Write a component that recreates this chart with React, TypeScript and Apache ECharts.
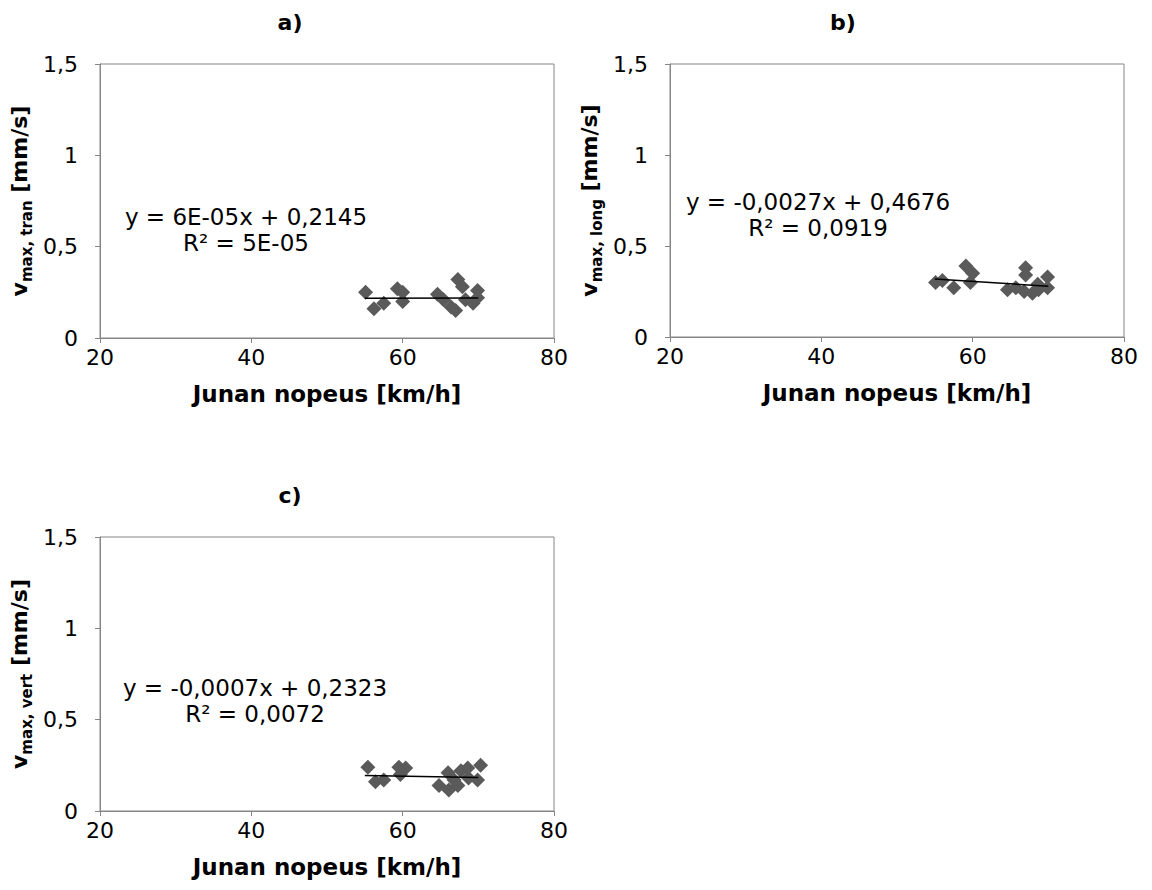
import React, { useEffect, useRef } from "react";
import * as echarts from "echarts";

const panelTitles = ["a)", "b)", "c)"];
const yLabelSubs = ["max, tran", "max, long", "max, vert"];
const xAxisTitle = "Junan nopeus [km/h]";
const xTicks = [20, 40, 60, 80];
const yTicks = [0, 0.5, 1, 1.5];

const aX = [55.1, 56.2, 57.5, 59.3, 60.0, 60.0, 64.6, 65.4, 66.4, 67.0, 67.3, 67.9, 68.3, 69.3, 69.9, 69.9];
const aY = [0.25, 0.16, 0.19, 0.27, 0.25, 0.2, 0.24, 0.21, 0.17, 0.15, 0.32, 0.28, 0.21, 0.19, 0.26, 0.22];
const aTrend = [[55, 0.2178], [70, 0.2187]];
const aEq = ["y = 6E-05x + 0,2145", "R² = 5E-05"];

const bX = [55.1, 56.0, 57.5, 59.1, 60.0, 59.7, 64.6, 65.7, 67.0, 67.0, 66.8, 67.9, 68.6, 69.9, 69.9, 68.7];
const bY = [0.3, 0.31, 0.27, 0.39, 0.35, 0.3, 0.26, 0.27, 0.38, 0.34, 0.25, 0.24, 0.29, 0.33, 0.27, 0.26];
const bTrend = [[55, 0.319], [70, 0.279]];
const bEq = ["y = -0,0027x + 0,4676", "R² = 0,0919"];

const cX = [55.4, 56.4, 57.5, 59.5, 60.4, 59.7, 64.8, 66.0, 66.1, 67.3, 67.7, 68.6, 68.7, 70.3, 69.9, 66.8];
const cY = [0.24, 0.16, 0.17, 0.24, 0.235, 0.2, 0.14, 0.21, 0.115, 0.14, 0.22, 0.235, 0.18, 0.25, 0.17, 0.17];
const cTrend = [[55, 0.194], [70, 0.183]];
const cEq = ["y = -0,0007x + 0,2323", "R² = 0,0072"];

const FONT = "DejaVu Sans, Verdana, sans-serif";
const AXIS_GRAY = "#868686";

export default function App() {
  const ref = useRef<HTMLDivElement>(null);
  useEffect(() => {
    document.body.style.margin = "0";
    if (!ref.current) return;
    const chart = echarts.init(ref.current, undefined, { renderer: "svg" });

    const grids = [
      { left: 100, top: 64, width: 454, height: 274 },
      { left: 670, top: 64, width: 454, height: 273 },
      { left: 100, top: 537, width: 454, height: 274 },
    ];
    const titlePos = [
      [285, 6],
      [838, 6],
      [285, 479],
    ];
    const eqPos = [
      [246, 230],
      [818, 215],
      [255, 701],
    ];
    const xs = [aX, bX, cX];
    const ys = [aY, bY, cY];
    const trends = [aTrend, bTrend, cTrend];
    const eqs = [aEq, bEq, cEq];

    const fmt = (v: number) => String(v).replace(".", ",");

    const xAxis = grids.map((_, i) => ({
      type: "value",
      gridIndex: i,
      min: xTicks[0],
      max: xTicks[xTicks.length - 1],
      interval: 20,
      name: xAxisTitle,
      nameLocation: "middle",
      nameGap: 44,
      nameTextStyle: { fontFamily: FONT, fontSize: 23, fontWeight: "bold", color: "#000" },
      axisLine: { show: true, lineStyle: { color: AXIS_GRAY, width: 1 } },
      axisTick: { show: true, length: 5, lineStyle: { color: AXIS_GRAY } },
      axisLabel: { fontFamily: FONT, fontSize: 22, color: "#000", margin: 8 },
      splitLine: { show: false },
    }));

    const yAxis = grids.map((_, i) => ({
      type: "value",
      gridIndex: i,
      min: yTicks[0],
      max: yTicks[yTicks.length - 1],
      interval: 0.5,
      name: `{v|v}{s|${yLabelSubs[i]}}{v| [mm/s]}`,
      nameLocation: "middle",
      nameRotate: 90,
      nameGap: 66,
      nameTextStyle: {
        fontFamily: FONT,
        rich: {
          v: { fontFamily: FONT, fontSize: 22, fontWeight: "bold", color: "#000", lineHeight: 30 },
          s: {
            fontFamily: FONT,
            fontSize: 15,
            fontWeight: "bold",
            color: "#000",
            lineHeight: 30,
            verticalAlign: "bottom",
          },
        },
      },
      axisLine: { show: true, lineStyle: { color: AXIS_GRAY, width: 1 } },
      axisTick: { show: true, length: 5, lineStyle: { color: AXIS_GRAY } },
      axisLabel: { fontFamily: FONT, fontSize: 22, color: "#000", margin: 22, formatter: fmt },
      splitLine: { show: false },
    }));

    const series: any[] = [];
    grids.forEach((_, i) => {
      series.push({
        type: "scatter",
        xAxisIndex: i,
        yAxisIndex: i,
        symbol: "diamond",
        symbolSize: 15,
        itemStyle: { color: "#5a5a5a", opacity: 1 },
        data: xs[i].map((x, k) => [x, ys[i][k]]),
        z: 2,
      });
      series.push({
        type: "line",
        xAxisIndex: i,
        yAxisIndex: i,
        symbol: "none",
        lineStyle: { color: "#000", width: 1.5 },
        data: trends[i],
        z: 3,
      });
    });

    chart.setOption({
      animation: false,
      backgroundColor: "#fff",
      title: panelTitles.map((t, i) => ({
        text: t,
        left: titlePos[i][0],
        top: titlePos[i][1],
        textAlign: "center",
        textStyle: { fontFamily: FONT, fontSize: 22, fontWeight: "bold", color: "#000" },
      })),
      grid: grids.map((g) => ({
        ...g,
        show: true,
        borderColor: AXIS_GRAY,
        borderWidth: 1,
        backgroundColor: "transparent",
        containLabel: false,
      })),
      xAxis,
      yAxis,
      series,
      graphic: eqs.map((e, i) => ({
        type: "text",
        x: eqPos[i][0],
        y: eqPos[i][1],
        style: {
          text: e.join("\n"),
          fontFamily: FONT,
          fontSize: 23,
          lineHeight: 26,
          fill: "#000",
          align: "center",
          verticalAlign: "middle",
        },
      })),
    });
    return () => chart.dispose();
  }, []);
  return <div ref={ref} style={{ width: 1152, height: 890 }} />;
}
